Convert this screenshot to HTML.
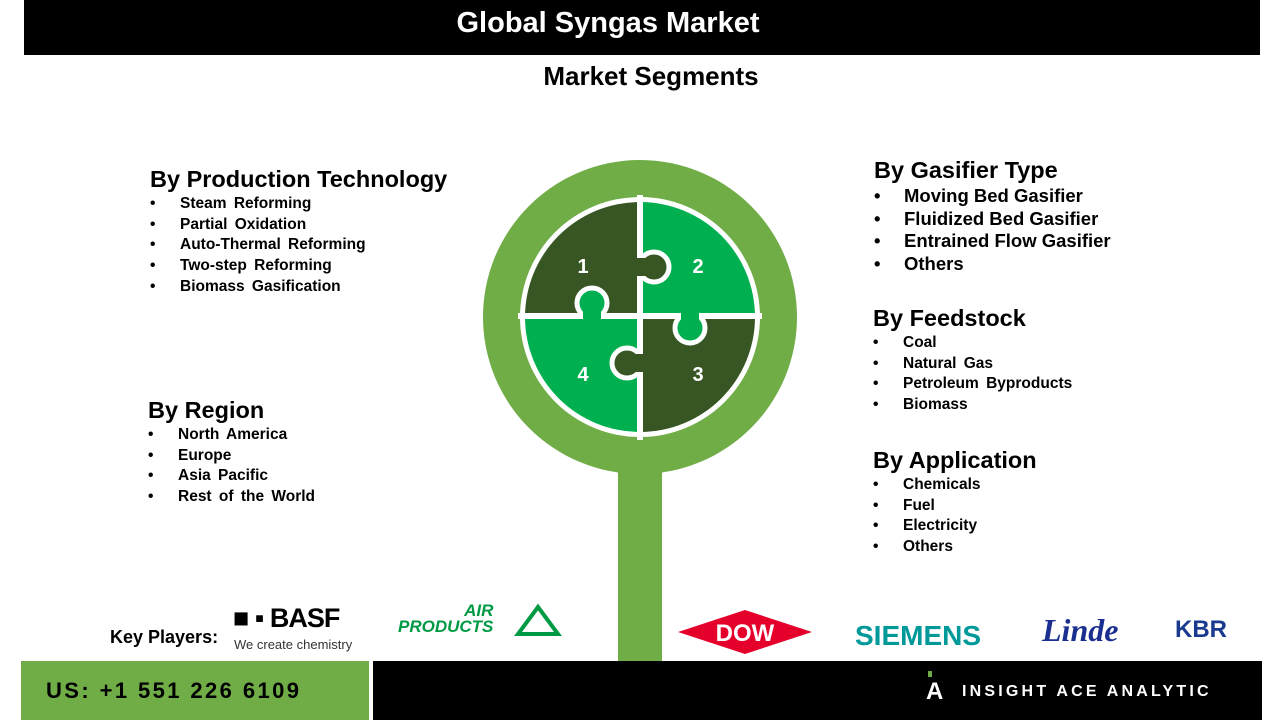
<!DOCTYPE html>
<html><head><meta charset="utf-8"><style>
body{margin:0;width:1280px;height:720px;background:#fff;position:relative;overflow:hidden;font-family:"Liberation Sans",Arial,sans-serif;color:#000}
.a{position:absolute;white-space:nowrap}
.h{font-weight:bold;font-size:23.5px}
ul{list-style:none;margin:0;padding:0;position:absolute;font-weight:bold;font-size:15.5px;word-spacing:3px}
ul li{height:20.7px;position:relative;padding-left:30px}
ul li:before{content:"•";position:absolute;left:0}
ul.big{font-size:18.5px;word-spacing:0}
ul.big li{height:22.5px}
</style></head><body>
<div class="a" style="left:24px;top:0;width:1236px;height:55px;background:#000"></div>
<div class="a" style="left:0;top:7px;width:1216px;text-align:center;color:#fff;font-weight:bold;font-size:29px">Global Syngas Market</div>
<div class="a" style="left:0;top:61px;width:1302px;text-align:center;font-weight:bold;font-size:26px">Market Segments</div>

<div class="a h" style="left:150px;top:166px">By Production Technology</div>
<ul style="left:150px;top:195px"><li>Steam Reforming</li><li>Partial Oxidation</li><li>Auto-Thermal Reforming</li><li>Two-step Reforming</li><li>Biomass Gasification</li></ul>
<div class="a h" style="left:148px;top:397px">By Region</div>
<ul style="left:148px;top:426px"><li>North America</li><li>Europe</li><li>Asia Pacific</li><li>Rest of the World</li></ul>

<div class="a h" style="left:874px;top:157px">By Gasifier Type</div>
<ul class="big" style="left:874px;top:185px"><li>Moving Bed Gasifier</li><li>Fluidized Bed Gasifier</li><li>Entrained Flow Gasifier</li><li>Others</li></ul>
<div class="a h" style="left:873px;top:305px">By Feedstock</div>
<ul style="left:873px;top:334px"><li>Coal</li><li>Natural Gas</li><li>Petroleum Byproducts</li><li>Biomass</li></ul>
<div class="a h" style="left:873px;top:447px">By Application</div>
<ul style="left:873px;top:476px"><li>Chemicals</li><li>Fuel</li><li>Electricity</li><li>Others</li></ul>

<svg class="a" style="left:0;top:0" width="1280" height="720">
<defs><clipPath id="c"><circle cx="640" cy="317" r="115"/></clipPath></defs>
<rect x="618" y="470" width="44" height="191" fill="#70ad47"/>
<rect x="626" y="455" width="28" height="20" fill="#70ad47"/>
<circle cx="640" cy="317" r="157" fill="#70ad47"/>
<circle cx="640" cy="317" r="120" fill="#fff"/>
<g clip-path="url(#c)">
<rect x="520" y="197" width="120" height="120" fill="#375623"/>
<rect x="640" y="197" width="120" height="120" fill="#00b050"/>
<rect x="640" y="317" width="120" height="120" fill="#375623"/>
<rect x="520" y="317" width="120" height="120" fill="#00b050"/>
</g>
<line x1="640" y1="195" x2="640" y2="440" stroke="#fff" stroke-width="6"/>
<line x1="518" y1="316" x2="762" y2="316" stroke="#fff" stroke-width="6"/>
<circle cx="654" cy="267" r="15" fill="#375623" stroke="#fff" stroke-width="5"/>
<rect x="634" y="258" width="14" height="18" fill="#375623"/>
<circle cx="592" cy="303" r="15" fill="#00b050" stroke="#fff" stroke-width="5"/>
<rect x="583" y="310" width="18" height="14" fill="#00b050"/>
<circle cx="690" cy="328" r="15" fill="#00b050" stroke="#fff" stroke-width="5"/>
<rect x="681" y="308" width="18" height="14" fill="#00b050"/>
<circle cx="627" cy="363" r="15" fill="#375623" stroke="#fff" stroke-width="5"/>
<rect x="633" y="354" width="14" height="18" fill="#375623"/>
<g fill="#fff" font-size="20" font-weight="bold" font-family="Liberation Sans" text-anchor="middle">
<text x="583" y="273">1</text><text x="698" y="273">2</text><text x="698" y="381">3</text><text x="583" y="381">4</text></g>
<polygon points="745,610 812,632 745,654 678,632" fill="#e5002b"/>
<text x="745" y="641" fill="#fff" font-size="24" font-weight="bold" text-anchor="middle" font-family="Liberation Sans">DOW</text>
<polygon points="538,607 558,634 518,634" fill="none" stroke="#009a44" stroke-width="4"/>
</svg>

<div class="a" style="left:110px;top:627px;font-weight:bold;font-size:18px">Key Players:</div>
<div class="a" style="left:233px;top:603px;font-weight:bold;font-size:27px;letter-spacing:-1px">■ ▪ BASF</div>
<div class="a" style="left:234px;top:637px;font-size:13px;color:#333">We create chemistry</div>
<div class="a" style="left:398px;top:603px;font-weight:bold;font-style:italic;font-size:17px;color:#009a44;line-height:16px;text-align:right">AIR<br>PRODUCTS</div>
<div class="a" style="left:855px;top:620px;font-weight:bold;font-size:28px;color:#009999">SIEMENS</div>
<div class="a" style="left:1042px;top:612px;font-weight:bold;font-style:italic;font-size:32px;color:#1a2f8f;font-family:'Liberation Serif',serif">Linde</div>
<div class="a" style="left:1175px;top:616px;font-weight:bold;font-size:24px;color:#1a3a8f">KBR</div>

<div class="a" style="left:21px;top:661px;width:348px;height:59px;background:#70ad47"></div>
<div class="a" style="left:46px;top:678px;font-weight:bold;font-size:22px;letter-spacing:2.4px">US: +1 551 226 6109</div>
<div class="a" style="left:373px;top:661px;width:889px;height:59px;background:#000"></div>
<div class="a" style="left:928px;top:671px;width:4px;height:6px;background:#70ad47"></div>
<div class="a" style="left:926px;top:678px;color:#fff;font-weight:bold;font-size:24px">A</div>
<div class="a" style="left:962px;top:683px;color:#fff;font-weight:bold;font-size:16px;letter-spacing:3.2px">INSIGHT ACE ANALYTIC</div>
</body></html>
